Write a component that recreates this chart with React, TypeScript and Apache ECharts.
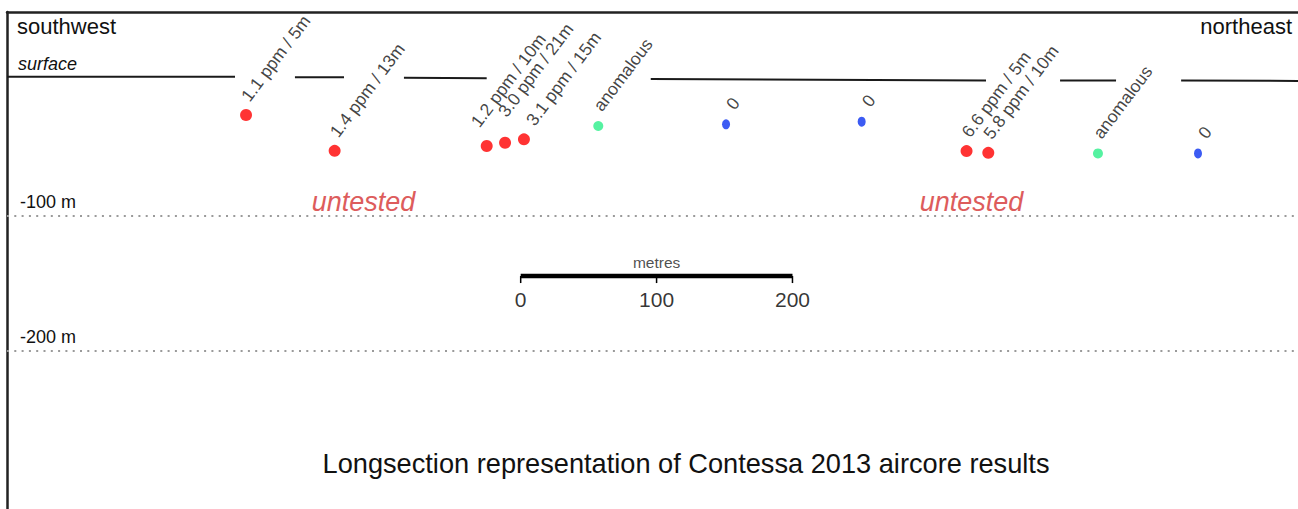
import React, { useEffect, useRef } from "react";
import * as echarts from "echarts";

// ---- data ----
// distance along the section (m, from the southwest edge) and sample depth (m)
const holeDistance = [175.9, 241.1, 353.0, 366.5, 380.4, 435.1, 529.1, 628.9, 706.1, 722.1, 802.8, 876.4];
const sampleDepth = [-25.3, -51.8, -48.2, -45.8, -43.3, -33.4, -32.2, -30.2, -52.0, -53.3, -53.7, -53.7];
const resultLabels = [
  "1.1 ppm / 5m",
  "1.4 ppm / 13m",
  "1.2 ppm / 10m",
  "3.0 ppm / 21m",
  "3.1 ppm / 15m",
  "anomalous",
  "0",
  "0",
  "6.6 ppm / 5m",
  "5.8 ppm / 10m",
  "anomalous",
  "0",
];
const resultClass = ["gold", "gold", "gold", "gold", "gold", "anomalous", "nil", "nil", "gold", "gold", "anomalous", "nil"];

// surface profile pieces: [distance, elevation]
const surfaceSegments = [
  [[0, 3.1], [167.8, 3.0]],
  [[211.9, 2.7], [248.0, 2.6]],
  [[292.1, 2.4], [353.0, 2.0]],
  [[473.7, 1.4], [720.4, 0.2]],
  [[774.9, 0.3], [816.1, 0.2]],
  [[864.0, 0.2], [950.0, 0.0]],
];

const depthGuides = [-100, -200];
const scaleTicks = [0, 100, 200];
const scaleOrigin = 378; // distance where the scale bar starts
const scaleDepth = -144.5;
const sectionLength = 950;
const depthMin = -317;
const depthMax = 51;

// layout only: pixel nudges for crowded labels (by point index)
const labelNudge: Record<number, number[]> = { 2: [-11, -5], 3: [-2, -12], 4: [7, 0] };

const FONT = "'Liberation Sans', Arial, Helvetica, sans-serif";

export default function App() {
  const ref = useRef<HTMLDivElement>(null);

  useEffect(() => {
    if (!ref.current) return;
    const chart = echarts.init(ref.current, undefined, { renderer: "svg" });

    const classStyle: Record<string, any> = {
      gold: { color: "#ff0000", size: [12, 12], pos: [5, -10] },
      anomalous: { color: "#2bef8a", size: [10, 10], pos: [4, -12] },
      nil: { color: "#0b32f0", size: [8, 10], pos: [8, -12] },
    };

    const pointSeries = Object.keys(classStyle).map((cls) => {
      const st = classStyle[cls];
      const data: any[] = [];
      holeDistance.forEach((d, i) => {
        if (resultClass[i] !== cls) return;
        const item: any = { value: [d, sampleDepth[i]], name: resultLabels[i] };
        const n = labelNudge[i];
        if (n) item.label = { position: [st.pos[0] + n[0], st.pos[1] + n[1]] };
        data.push(item);
      });
      return {
        type: "scatter",
        name: cls,
        data,
        symbol: "circle",
        symbolSize: st.size,
        itemStyle: { color: st.color },
        label: {
          show: true,
          formatter: (p: any) => p.name,
          position: st.pos,
          rotate: 53,
          align: "left",
          verticalAlign: "middle",
          fontFamily: FONT,
          fontSize: 17.5,
          color: "#111",
        },
        z: 5,
      };
    });

    const surfaceSeries = surfaceSegments.map((seg, i) => ({
      type: "line",
      data: seg,
      symbol: "none",
      silent: true,
      lineStyle: { color: "#1a1a1a", width: 2 },
      markLine:
        i === 0
          ? {
              silent: true,
              symbol: "none",
              lineStyle: { type: [2, 5.3], color: "#9a9a9a", width: 2 },
              label: {
                show: true,
                position: "insideStartTop",
                formatter: (p: any) => p.value + " m",
                fontFamily: FONT,
                fontSize: 18,
                color: "#111",
                distance: [13, 5],
              },
              data: depthGuides.map((g) => ({ yAxis: g })),
            }
          : undefined,
    }));

    const scaleEnd = scaleOrigin + scaleTicks[scaleTicks.length - 1];
    const scaleBar = {
      type: "line",
      data: [
        [scaleOrigin, scaleDepth],
        [scaleEnd, scaleDepth],
      ],
      symbol: "none",
      silent: true,
      lineStyle: { color: "#000", width: 4.5, cap: "butt" },
    };
    const scaleTickSeries = scaleTicks.map((t) => ({
      type: "line",
      data: [
        [scaleOrigin + t, scaleDepth],
        [scaleOrigin + t, scaleDepth - 5.2],
      ],
      symbol: "none",
      silent: true,
      lineStyle: { color: "#000", width: 1.5 },
    }));
    const scaleLabels = {
      type: "scatter",
      data: scaleTicks.map((t) => ({ value: [scaleOrigin + t, scaleDepth], name: String(t) })),
      symbolSize: 0,
      silent: true,
      label: {
        show: true,
        position: "bottom",
        distance: 13,
        formatter: (p: any) => p.name,
        fontFamily: FONT,
        fontSize: 21,
        color: "#000",
      },
    };
    const scaleTitle = {
      type: "scatter",
      data: [{ value: [scaleOrigin + scaleTicks[scaleTicks.length - 1] / 2, scaleDepth], name: "metres" }],
      symbolSize: 0,
      silent: true,
      label: {
        show: true,
        position: "top",
        distance: 6,
        formatter: (p: any) => p.name,
        fontFamily: FONT,
        fontSize: 15.5,
        color: "#222",
      },
    };

    const textStyle = (extra: any) => ({ fontFamily: FONT, fill: "#111", ...extra });

    chart.setOption({
      animation: false,
      backgroundColor: "#ffffff",
      grid: { left: 7, right: 0, top: 12, bottom: 0, containLabel: false },
      xAxis: {
        type: "value",
        min: 0,
        max: sectionLength,
        position: "top",
        axisLine: { show: true, onZero: false, lineStyle: { color: "#222", width: 2.5 } },
        axisTick: { show: false },
        axisLabel: { show: false },
        splitLine: { show: false },
      },
      yAxis: {
        type: "value",
        min: depthMin,
        max: depthMax,
        position: "left",
        axisLine: { show: true, onZero: false, lineStyle: { color: "#222", width: 2.5 } },
        axisTick: { show: false },
        axisLabel: { show: false },
        splitLine: { show: false },
      },
      graphic: [
        { type: "text", left: 17, top: 15, style: textStyle({ text: "southwest", fontSize: 22 }) },
        { type: "text", right: 6, top: 15, style: textStyle({ text: "northeast", fontSize: 22 }) },
        {
          type: "text",
          left: 18,
          top: 55,
          style: textStyle({ text: "surface", fontSize: 18, fontStyle: "italic" }),
        },
        {
          type: "text",
          x: 363.5,
          y: 202,
          style: textStyle({
            text: "untested",
            fontSize: 27,
            fontStyle: "italic",
            fill: "#dd5c5c",
            align: "center",
            verticalAlign: "middle",
          }),
        },
        {
          type: "text",
          x: 971.5,
          y: 202,
          style: textStyle({
            text: "untested",
            fontSize: 27,
            fontStyle: "italic",
            fill: "#dd5c5c",
            align: "center",
            verticalAlign: "middle",
          }),
        },
        {
          type: "text",
          x: 686,
          y: 463,
          style: textStyle({
            text: "Longsection representation of Contessa 2013 aircore results",
            fontSize: 27.2,
            align: "center",
            verticalAlign: "middle",
          }),
        },
      ],
      series: [...surfaceSeries, scaleBar, ...scaleTickSeries, scaleLabels, scaleTitle, ...pointSeries],
    });

    return () => chart.dispose();
  }, []);

  return (
    <div
      ref={ref}
      style={{ position: "fixed", left: 0, top: 0, width: 1298, height: 509, background: "#fff" }}
    />
  );
}
